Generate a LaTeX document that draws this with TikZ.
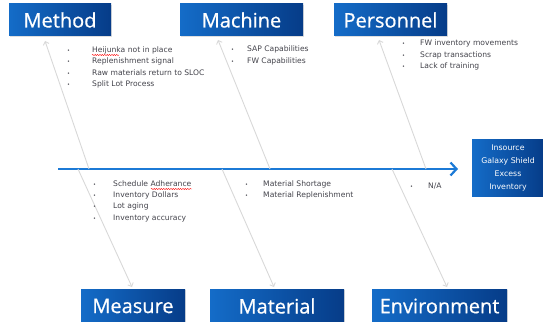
\documentclass[tikz,border=0pt]{standalone}
\usepackage{fontspec}
\setmainfont{DejaVu Sans}
\newfontfamily\headfont[FakeBold=0.6]{Open Sans}
\usetikzlibrary{arrows.meta,shadows,decorations.pathmorphing}

\definecolor{boxlight}{RGB}{20,108,200}
\definecolor{boxdark}{RGB}{6,60,136}
\definecolor{spineblue}{RGB}{28,122,214}
\definecolor{bonegray}{RGB}{216,216,216}
\definecolor{itemgray}{RGB}{66,66,74}

% bullet list: #1 = gap from bullet to text, #2 = rows
\newcommand\causelist[2]{%
  \begin{tabular}[t]{@{}p{#1}@{}l@{}}#2\end{tabular}}
\newcommand\bul{{\fontsize{5}{5}\selectfont\textbullet}}

\tikzset{
  catbox/.style={left color=boxlight, right color=boxdark, text=white,
    font=\headfont\fontsize{20}{22}\selectfont, inner sep=0pt,
    minimum height=32pt,
    drop shadow={shadow xshift=1pt, shadow yshift=-1pt, opacity=0.25}},
  effectbox/.style={left color=boxlight, right color=boxdark, text=white,
    align=center, font=\fontsize{7.8}{13}\selectfont, inner sep=0pt,
    minimum height=57pt,
    drop shadow={shadow xshift=1pt, shadow yshift=-1pt, opacity=0.25}},
  spine/.style={draw=spineblue, line width=2.4pt,
    -{Straight Barb[length=6pt, width=13pt, line width=2.2pt]}},
  bone/.style={draw=bonegray, line width=0.9pt,
    -{Straight Barb[length=3pt, width=6pt]}},
  causes/.style={anchor=base west, inner sep=0pt, text=itemgray,
    font=\fontsize{7.6}{11.4}\selectfont},
  spellmark/.style={draw=red, line width=0.4pt, decorate,
    decoration={snake, amplitude=0.6pt, segment length=2.4pt}},
}

\begin{document}
\begin{tikzpicture}[x=1pt, y=-1pt]
  \useasboundingbox (0,0) rectangle (543,321);
  \begin{scope}
    \clip (0,0) rectangle (543,321);

    % category boxes
    \node[catbox, minimum width=102pt] (method)      at (60,20)    {Method};
    \node[catbox, minimum width=123pt] (machine)     at (241.5,20) {Machine};
    \node[catbox, minimum width=113pt] (personnel)   at (390.5,20) {Personnel};
    \node[catbox, minimum width=104pt, minimum height=34pt] (measure)     at (133,306)   {Measure};
    \node[catbox, minimum width=134pt, minimum height=34pt] (material)    at (277,306)   {Material};
    \node[catbox, minimum width=135pt, minimum height=34pt] (environment) at (439.5,306) {Environment};

    % effect box
    \node[effectbox, minimum width=72pt] (effect) at (508,167.5)
      {Insource\\Galaxy Shield\\Excess\\Inventory};

    % spine
    \coordinate (tail) at (58,169);
    \coordinate (head) at (458,169);
    \draw[spine] (tail) -- (head);

    % bone ends on the spine
    \coordinate (jmethod)    at (89,169);
    \coordinate (jmachine)   at (270,169);
    \coordinate (jpersonnel) at (426,169);
    \coordinate (jmeasure)   at (78,169);
    \coordinate (jmaterial)  at (222,169);
    \coordinate (jenvironment) at (392,169);

    % bone tips next to the category boxes
    \coordinate (tmethod)    at (45,41);
    \coordinate (tmachine)   at (218,40);
    \coordinate (tpersonnel) at (379,40);
    \coordinate (tmeasure)   at (132,287);
    \coordinate (tmaterial)  at (274,287);
    \coordinate (tenvironment) at (447,287);

    \draw[bone] (jmethod) -- (tmethod);
    \draw[bone] (jmachine) -- (tmachine);
    \draw[bone] (jpersonnel) -- (tpersonnel);
    \draw[bone] (jmeasure) -- (tmeasure);
    \draw[bone] (jmaterial) -- (tmaterial);
    \draw[bone] (jenvironment) -- (tenvironment);

    % causes
    \node[causes] (lmethod) at (67,52.5) {\causelist{25pt}{%
      \bul & Heijunka not in place\\
      \bul & Replenishment signal\\
      \bul & Raw materials return to SLOC\\
      \bul & Split Lot Process}};
    \node[causes] (lmachine) at (231,52) {\causelist{16pt}{%
      \bul & SAP Capabilities\\
      \bul & FW Capabilities}};
    \node[causes] (lpersonnel) at (402,46) {\causelist{18pt}{%
      \bul & FW inventory movements\\
      \bul & Scrap transactions\\
      \bul & Lack of training}};
    \node[causes] (lmeasure) at (93,186) {\causelist{20pt}{%
      \bul & Schedule Adherance\\
      \bul & Inventory Dollars\\
      \bul & Lot aging\\
      \bul & Inventory accuracy}};
    \node[causes] (lmaterial) at (245,186) {\causelist{18pt}{%
      \bul & Material Shortage\\
      \bul & Material Replenishment}};
    \node[causes] (lenvironment) at (410,188.5) {\causelist{18pt}{%
      \bul & N/A}};

    % spell-check marks
    \coordinate (s1a) at (92,55);  \coordinate (s1b) at (119,55);
    \coordinate (s2a) at (151,189); \coordinate (s2b) at (192,189);
    \draw[spellmark] (s1a) -- (s1b);
    \draw[spellmark] (s2a) -- (s2b);
  \end{scope}
\end{tikzpicture}
\end{document}
